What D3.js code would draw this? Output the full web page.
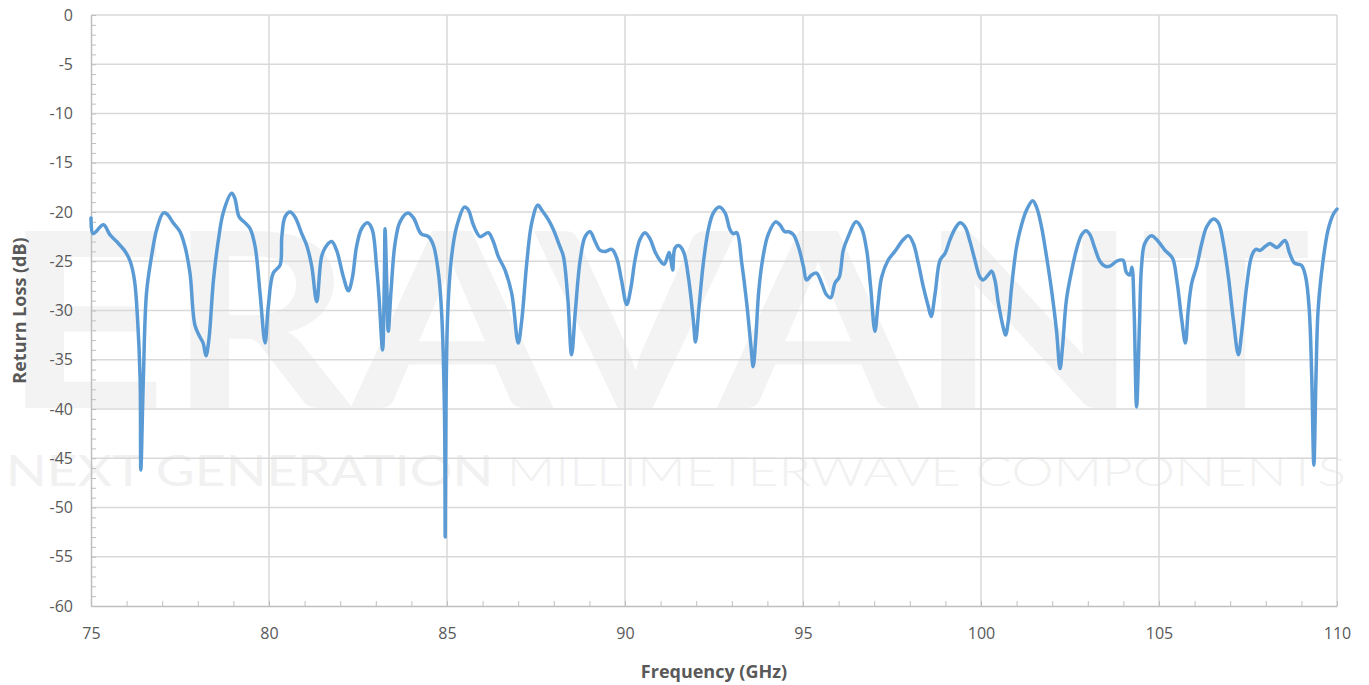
<!DOCTYPE html>
<html>
<head>
<meta charset="utf-8">
<script src="https://cdnjs.cloudflare.com/ajax/libs/d3/7.8.5/d3.min.js"></script>
<style>
  body { margin: 0; background: #fff; }
  svg text { font-family: "Open Sans", "Liberation Sans", sans-serif; }
</style>
</head>
<body>
<svg id="chart"></svg>
<script>
/*Frequency sweep*/
const freqGHz = [
  75.0, 75.06, 75.35, 75.53, 75.72, 75.96, 76.1, 76.22, 76.31, 76.38, 76.4, 76.47, 76.56, 76.7, 76.85, 77.03, 77.13,
  77.31, 77.5, 77.64, 77.78, 77.92, 78.06, 78.15, 78.23, 78.31, 78.44, 78.58, 78.72, 78.95, 79.04, 79.16, 79.33,
  79.47, 79.61, 79.75, 79.89, 79.98, 80.12, 80.31, 80.36, 80.45, 80.59, 80.73, 80.92, 81.06, 81.2, 81.34, 81.48,
  81.62, 81.76, 81.9, 82.09, 82.23, 82.34, 82.46, 82.6, 82.77, 82.9, 83.02, 83.09, 83.19, 83.24, 83.26, 83.31,
  83.35, 83.43, 83.54, 83.68, 83.9, 84.06, 84.27, 84.48, 84.62, 84.76, 84.85, 84.93, 84.95, 84.97, 85.02, 85.13,
  85.27, 85.49, 85.6, 85.74, 85.93, 86.16, 86.3, 86.44, 86.63, 86.82, 87.0, 87.1, 87.24, 87.38, 87.55, 87.66,
  87.85, 87.99, 88.17, 88.27, 88.39, 88.5, 88.6, 88.74, 88.88, 89.02, 89.16, 89.3, 89.44, 89.63, 89.77, 89.9,
  90.05, 90.17, 90.28, 90.42, 90.56, 90.7, 90.84, 90.98, 91.1, 91.24, 91.29, 91.34, 91.4, 91.5, 91.64, 91.78,
  91.92, 91.98, 92.08, 92.2, 92.34, 92.48, 92.65, 92.81, 92.95, 93.04, 93.14, 93.28, 93.42, 93.54, 93.6, 93.67,
  93.76, 93.88, 94.02, 94.23, 94.35, 94.49, 94.6, 94.73, 94.87, 95.01, 95.1, 95.24, 95.38, 95.52, 95.66, 95.78,
  95.9, 96.02, 96.13, 96.27, 96.49, 96.65, 96.79, 96.9, 97.02, 97.11, 97.21, 97.39, 97.58, 97.82, 97.96, 98.1,
  98.24, 98.38, 98.52, 98.6, 98.71, 98.85, 98.99, 99.13, 99.27, 99.41, 99.55, 99.69, 99.83, 99.97, 100.06, 100.2,
  100.3, 100.39, 100.49, 100.63, 100.69, 100.77, 100.86, 101.0, 101.14, 101.28, 101.45, 101.56, 101.7, 101.84,
  101.98, 102.12, 102.22, 102.29, 102.4, 102.55, 102.69, 102.83, 102.95, 103.06, 103.2, 103.34, 103.48, 103.62,
  103.81, 103.99, 104.08, 104.18, 104.24, 104.3, 104.37, 104.45, 104.51, 104.6, 104.79, 104.98, 105.17, 105.38,
  105.5, 105.64, 105.74, 105.82, 105.92, 106.06, 106.2, 106.34, 106.53, 106.67, 106.81, 106.95, 107.09, 107.23,
  107.32, 107.46, 107.6, 107.72, 107.84, 107.98, 108.12, 108.21, 108.32, 108.54, 108.67, 108.81, 109.0, 109.12,
  109.22, 109.29, 109.35, 109.41, 109.47, 109.61, 109.75, 109.9, 110.0
];
const returnLossDB = [
  -20.6, -22.2, -21.3, -22.3, -23.0, -24.0, -25.0, -26.9, -31.0, -37.0, -46.2, -37.0, -28.2, -24.5, -21.7, -20.1, -20.2,
  -21.1, -22.0, -23.5, -26.2, -31.5, -32.7, -33.3, -34.6, -33.0, -26.9, -22.8, -20.0, -18.1, -18.6, -20.5, -21.1,
  -21.7, -23.5, -28.3, -33.3, -29.6, -26.2, -25.4, -22.5, -20.5, -20.0, -20.5, -22.2, -23.4, -25.5, -29.1, -24.5,
  -23.4, -23.0, -23.9, -26.6, -28.0, -26.7, -23.5, -21.7, -21.1, -21.8, -25.5, -28.6, -34.0, -26.9, -21.7, -27.6,
  -32.1, -27.9, -23.2, -21.0, -20.1, -20.6, -22.2, -22.5, -23.4, -26.2, -30.3, -40.4, -53.0, -40.4, -30.3, -24.5,
  -21.5, -19.5, -19.8, -21.3, -22.5, -22.1, -23.0, -24.5, -25.9, -28.3, -33.3, -31.0, -25.2, -21.1, -19.3, -19.8,
  -20.8, -21.8, -23.5, -24.5, -28.6, -34.5, -30.3, -24.9, -22.5, -22.0, -23.0, -23.9, -24.0, -23.8, -24.7, -26.9,
  -29.4, -27.6, -24.9, -22.8, -22.1, -22.7, -24.0, -24.9, -25.3, -24.1, -24.9, -25.9, -23.7, -23.4, -24.0, -26.6,
  -31.0, -33.2, -29.6, -25.2, -21.8, -20.1, -19.5, -20.1, -21.8, -22.2, -22.1, -25.2, -29.3, -33.7, -35.7, -33.0,
  -27.9, -24.5, -22.3, -21.0, -21.3, -22.0, -22.0, -22.3, -23.5, -25.5, -26.9, -26.4, -26.2, -27.2, -28.4, -28.7,
  -27.2, -26.6, -23.9, -22.5, -21.0, -21.7, -23.9, -27.6, -32.1, -29.3, -26.6, -24.9, -24.0, -22.8, -22.4, -23.2,
  -25.2, -27.6, -29.6, -30.6, -28.3, -24.9, -24.2, -22.8, -21.7, -21.1, -21.5, -23.0, -24.9, -26.6, -26.9, -26.4,
  -26.0, -26.9, -29.3, -31.8, -32.5, -31.0, -27.6, -23.5, -21.3, -19.8, -18.85, -19.5, -21.5, -24.5,
  -27.9, -32.0, -35.9, -33.7, -28.9, -25.9, -23.7, -22.3, -21.9, -22.3, -23.7, -25.0, -25.5, -25.5,
  -25.0, -24.9, -26.1, -26.4, -25.6, -29.9, -39.8, -31.6, -25.5, -23.2, -22.4, -23.0, -23.9, -24.7,
  -26.9, -31.0, -33.3, -30.0, -27.2, -25.5, -23.2, -21.5, -20.7, -21.1, -23.2, -26.6, -31.0, -34.5,
  -32.3, -27.6, -24.5, -23.8, -23.9, -23.5, -23.2, -23.4, -23.6, -22.9, -24.2, -25.2, -25.4, -26.6,
  -29.9, -36.7, -45.7, -36.7, -29.9, -24.9, -21.8, -20.2, -19.7
];
const xTicks = [75, 80, 85, 90, 95, 100, 105, 110];
const yTicks = [0, -5, -10, -15, -20, -25, -30, -35, -40, -45, -50, -55, -60];

const width = 1369;
const height = 685;
const margin = {top: 15, right: 32, bottom: 79, left: 91};

const svg = d3.select("#chart")
       .attr("width", width)
       .attr("height", height);

/*Watermark behind the plot*/
const wm = svg.append("g").attr("id", "watermark");
wm.append("text")
       .text("ERAVANT")
       .attr("x", 2)
       .attr("y", 408)
       .attr("textLength", 1310)
       .attr("lengthAdjust", "spacingAndGlyphs")
       .style("font-family", "Lato, 'Open Sans', sans-serif")
       .style("font-weight", 700)
       .style("font-size", "245px")
       .style("fill", "#f3f3f3");
wm.append("text")
       .attr("x", 6)
       .attr("y", 486)
       .style("font-family", "Lato, 'Open Sans', sans-serif")
       .style("font-size", "42px")
       .style("fill", "#f1f1f1")
       .call(t => {
              t.append("tspan").text("NEXT GENERATION ").style("font-weight", 400);
              t.append("tspan").text("MILLIMETERWAVE COMPONENTS").style("font-weight", 300);
       })
       .attr("textLength", 1340)
       .attr("lengthAdjust", "spacingAndGlyphs");

const x = d3.scaleLinear()
       .domain([75, 110])
       .range([margin.left, width - margin.right]);
const y = d3.scaleLinear()
       .domain([-60, 0])
       .range([height - margin.bottom, margin.top]);

/*Gridlines*/
const grid = svg.append("g").attr("id", "grid");
grid.selectAll(".hgrid")
       .data(yTicks.filter(d => d !== -60))
       .enter()
       .append("line")
       .attr("x1", margin.left)
       .attr("x2", width - margin.right)
       .attr("y1", d => y(d))
       .attr("y2", d => y(d))
       .attr("stroke", "#d9d9d9")
       .attr("stroke-width", 1.5);
grid.selectAll(".vgrid")
       .data(xTicks.filter(d => d !== 75))
       .enter()
       .append("line")
       .attr("x1", d => x(d))
       .attr("x2", d => x(d))
       .attr("y1", margin.top)
       .attr("y2", height - margin.bottom)
       .attr("stroke", "#d9d9d9")
       .attr("stroke-width", 1.5);

/*Axes with inside minor ticks*/
const xAxis = d3.axisBottom(x)
       .tickValues(d3.range(75, 111, 1))
       .tickSizeInner(-5)
       .tickSizeOuter(0)
       .tickFormat(d => xTicks.includes(d) ? d : "");
const gx = svg.append("g")
       .attr("transform", "translate(0," + (height - margin.bottom) + ")")
       .call(xAxis);
gx.select(".domain").attr("stroke", "#bfbfbf").attr("stroke-width", 1.5);
gx.selectAll(".tick line").attr("stroke", "#bfbfbf");
gx.selectAll(".tick text")
       .attr("y", 22)
       .style("font-size", "16px")
       .style("fill", "#595959");

const yAxis = d3.axisLeft(y)
       .tickValues(d3.range(-60, 1, 1))
       .tickSizeInner(-5)
       .tickSizeOuter(0)
       .tickFormat(d => yTicks.includes(d) ? d : "");
const gy = svg.append("g")
       .attr("transform", "translate(" + margin.left + ",0)")
       .call(yAxis);
gy.select(".domain").attr("stroke", "#bfbfbf").attr("stroke-width", 1.5);
gy.selectAll(".tick line").attr("stroke", "#bfbfbf");
gy.selectAll(".tick text")
       .attr("x", -18)
       .style("font-size", "16px")
       .style("fill", "#595959");

/*Data line*/
const line = d3.line()
       .x((d, i) => x(freqGHz[i]))
       .y(d => y(d))
       .curve(d3.curveCatmullRom.alpha(0.5));
svg.append("path")
       .datum(returnLossDB)
       .attr("d", line)
       .attr("fill", "none")
       .attr("stroke", "#5b9bd5")
       .attr("stroke-width", 3.5)
       .attr("stroke-linejoin", "round")
       .attr("stroke-linecap", "round");

/*Axis titles*/
svg.append("text")
       .text("Frequency (GHz)")
       .attr("x", (margin.left + width - margin.right) / 2)
       .attr("y", 678)
       .attr("text-anchor", "middle")
       .style("font-size", "18px")
       .style("font-weight", "bold")
       .style("fill", "#595959");
svg.append("text")
       .text("Return Loss (dB)")
       .attr("transform", "translate(26," + ((margin.top + height - margin.bottom) / 2) + ") rotate(-90)")
       .attr("text-anchor", "middle")
       .style("font-size", "18px")
       .style("font-weight", "bold")
       .style("fill", "#595959");
</script>
</body>
</html>
